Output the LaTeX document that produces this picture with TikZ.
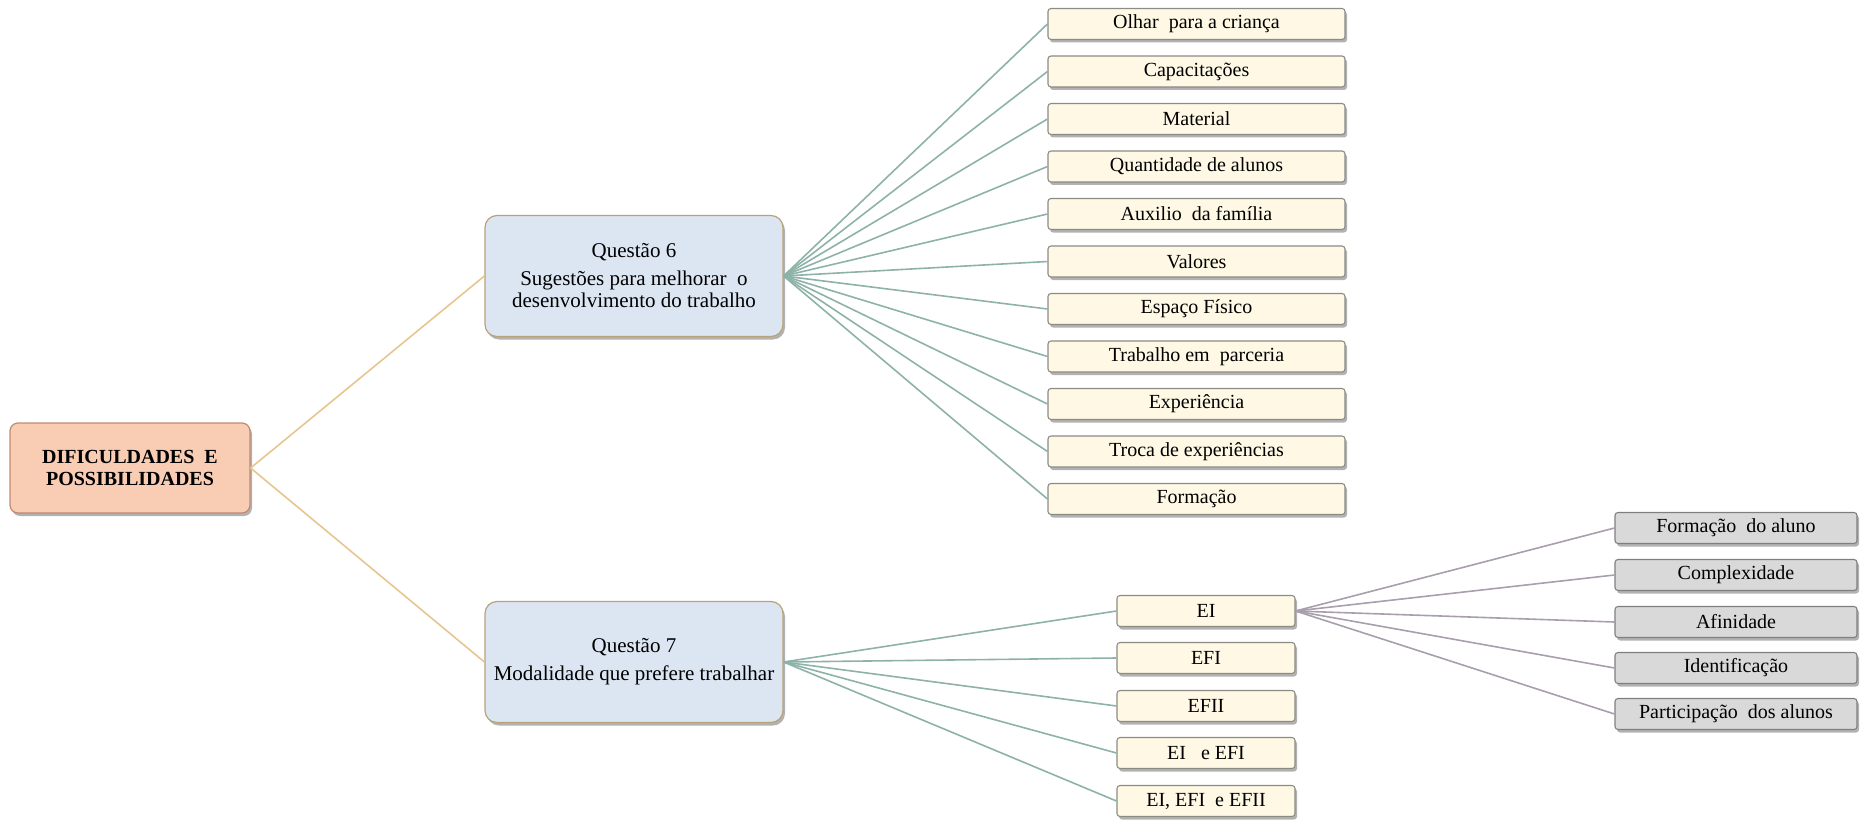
\documentclass[tikz,border=0pt]{standalone}
\usepackage{fontspec}
\setmainfont{Liberation Serif}
\usetikzlibrary{shadows}
\definecolor{rootfill}{HTML}{F8CDB4}
\definecolor{rootdraw}{HTML}{C08A72}
\definecolor{qfill}{HTML}{DCE6F2}
\definecolor{qdraw}{HTML}{B8A27A}
\definecolor{leaffill}{HTML}{FEF8E5}
\definecolor{leafdraw}{HTML}{8C8C84}
\definecolor{grayfill}{HTML}{D9D9D9}
\definecolor{graydraw}{HTML}{7F7F7F}
\definecolor{tanline}{HTML}{E6C68E}
\definecolor{tealline}{HTML}{8DB2A8}
\definecolor{mauveline}{HTML}{A99EAD}
\tikzset{
  boxshadow/.style={drop shadow={shadow xshift=2pt,shadow yshift=-3pt,fill=black!55,opacity=.55}},
  rootbox/.style={draw=rootdraw,line width=1.2pt,fill=rootfill,rounded corners=8pt,boxshadow,
    minimum width=240pt,minimum height=90pt,inner sep=0pt,align=center,
    font=\fontsize{20}{22}\selectfont\bfseries},
  qbox/.style={draw=qdraw,line width=1.2pt,fill=qfill,rounded corners=12pt,boxshadow,
    minimum width=298pt,minimum height=121pt,inner sep=0pt,align=center,
    font=\fontsize{21}{22}\selectfont},
  leafbox/.style={draw=leafdraw,line width=1.1pt,fill=leaffill,rounded corners=3pt,boxshadow,
    minimum width=297pt,minimum height=31pt,inner sep=0pt,font=\fontsize{20}{22}\selectfont},
  modbox/.style={leafbox,minimum width=178pt},
  graybox/.style={draw=graydraw,line width=1.1pt,fill=grayfill,rounded corners=3pt,boxshadow,
    minimum width=242pt,minimum height=31pt,inner sep=0pt,font=\fontsize{20}{22}\selectfont},
  tanlink/.style={draw=tanline,line width=1.6pt},
  teallink/.style={draw=tealline,line width=1.6pt},
  mauvelink/.style={draw=mauveline,line width=1.6pt}
}
\begin{document}
\begin{tikzpicture}[x=1pt,y=-1pt]
\useasboundingbox (0,0) rectangle (1865,821);

% central topic
\node[rootbox] (root) at (130,468) {DIFICULDADES\ \ E\\POSSIBILIDADES};

% the two questions
\node[qbox] (q6) at (634,276) {Questão 6\\[6pt]Sugestões para melhorar\ \ o\\desenvolvimento do trabalho};
\node[qbox] (q7) at (634,662) {Questão 7\\[6pt]Modalidade que prefere trabalhar};

% answers to question 6
\node[leafbox] (s1)  at (1196.5,24)    {Olhar\ \ para a criança};
\node[leafbox] (s2)  at (1196.5,71.5)  {Capacitações};
\node[leafbox] (s3)  at (1196.5,119)   {Material};
\node[leafbox] (s4)  at (1196.5,166.5) {Quantidade de alunos};
\node[leafbox] (s5)  at (1196.5,214)   {Auxilio\ \ da família};
\node[leafbox] (s6)  at (1196.5,261.5) {Valores};
\node[leafbox] (s7)  at (1196.5,309)   {Espaço Físico};
\node[leafbox] (s8)  at (1196.5,356.5) {Trabalho em\ \ parceria};
\node[leafbox] (s9)  at (1196.5,404)   {Experiência};
\node[leafbox] (s10) at (1196.5,451.5) {Troca de experiências};
\node[leafbox] (s11) at (1196.5,499)   {Formação};

% answers to question 7
\node[modbox] (m1) at (1206,611)   {EI};
\node[modbox] (m2) at (1206,658)   {EFI};
\node[modbox] (m3) at (1206,706)   {EFII};
\node[modbox] (m4) at (1206,753)   {EI\ \ \ e EFI};
\node[modbox] (m5) at (1206,801)   {EI, EFI\ \ e EFII};

% reasons given for EI
\node[graybox] (r1) at (1736,528) {Formação\ \ do aluno};
\node[graybox] (r2) at (1736,575) {Complexidade};
\node[graybox] (r3) at (1736,622) {Afinidade};
\node[graybox] (r4) at (1736,668) {Identificação};
\node[graybox] (r5) at (1736,714) {Participação\ \ dos alunos};

% connectors
\path[tanlink] (root.east) -- (q6.west);
\path[tanlink] (root.east) -- (q7.west);
\foreach \s in {s1,s2,s3,s4,s5,s6,s7,s8,s9,s10,s11}
  \path[teallink] (q6.east) -- (\s.west);
\foreach \m in {m1,m2,m3,m4,m5}
  \path[teallink] (q7.east) -- (\m.west);
\foreach \r in {r1,r2,r3,r4,r5}
  \path[mauvelink] (m1.east) -- (\r.west);
\end{tikzpicture}
\end{document}
